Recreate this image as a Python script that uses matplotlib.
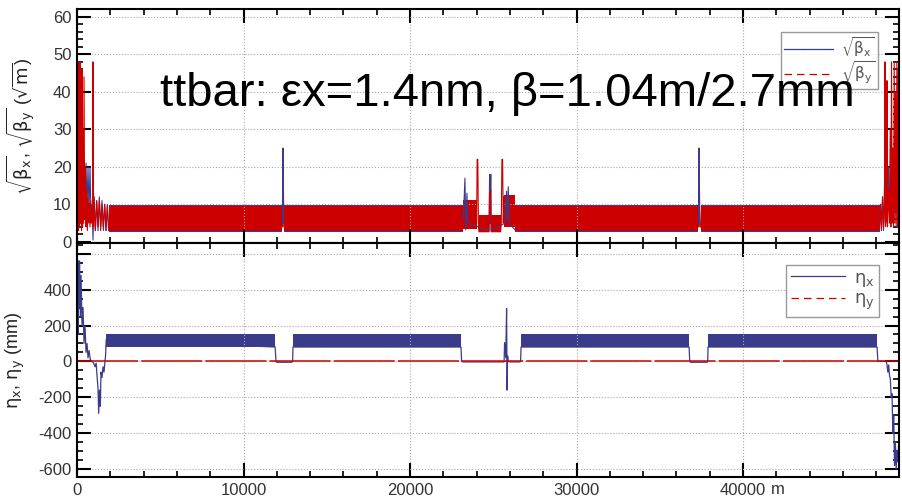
import matplotlib
matplotlib.use('Agg')
import matplotlib.pyplot as plt
from matplotlib.ticker import MultipleLocator
from matplotlib.lines import Line2D

plt.rcParams['font.family'] = ['Liberation Sans', 'DejaVu Sans']
plt.rcParams['axes.unicode_minus'] = False

# ---- data ----
# ring length (m)
ring_len = 49370

# sqrt(beta) arc cells: regions where the FODO pattern is a solid band
arc_s0 = [1900, 12450, 26300, 37450]
arc_s1 = [12300, 23180, 37300, 48200]
sbx_band = (2.7, 9.9)
sby_band = (3.0, 9.6)

# left interaction region
irl_bx_s = [0, 60, 120, 180, 240, 300, 360, 420, 480, 540, 600, 660, 720, 780, 840,
            900, 960, 1020, 1100, 1180, 1260, 1340, 1420, 1500, 1580, 1660, 1740, 1820, 1900]
irl_bx = [8, 20, 4, 16, 5, 12, 6, 20, 10, 21, 9, 20, 8, 20, 6,
          10, 0.5, 12, 3, 11, 3, 12, 4, 11, 3, 10, 3, 10, 3]
irl_by_s = [0, 15, 40, 60, 90, 120, 150, 180, 210, 240, 270, 300, 330, 360, 390,
            420, 460, 500, 540, 580, 620, 660, 700, 740, 780, 820, 860, 900, 940,
            960, 990, 1020, 1100, 1180, 1260, 1340, 1420, 1500, 1580, 1660, 1740, 1820, 1900]
irl_by = [3, 58, 5, 48, 3, 48, 4, 48, 5, 45, 3, 46, 4, 30, 5,
          44, 6, 20, 4, 14, 3, 12, 5, 10, 4, 11, 5, 8, 4,
          48, 4, 12, 3, 11, 4, 11, 3, 10, 4, 10, 3, 9.5, 3.2]

# right interaction region
irr_bx_s = [48200, 48260, 48320, 48380, 48440, 48500, 48560, 48620, 48680, 48740, 48800,
            48860, 48920, 48980, 49040, 49100, 49160, 49220, 49280, 49340, 49370]
irr_bx = [3, 10, 4, 12, 3, 16, 5, 21, 8, 20, 6, 22, 9, 18, 5, 20, 8, 14, 4, 12, 8]
irr_by_s = [48200, 48260, 48320, 48380, 48440, 48500, 48530, 48560, 48620, 48650, 48680,
            48740, 48800, 48840, 48880, 48920, 48960, 49000, 49040, 49080, 49120,
            49160, 49200, 49240, 49280, 49320, 49360]
irr_by = [4, 10, 3, 12, 4, 8, 48, 4, 6, 43, 4, 14, 5, 30, 4, 48, 5, 25, 4, 48, 5,
          40, 4, 48, 5, 46, 6]

# arc spikes (s of spike, sqrt(beta_x) peak, sqrt(beta_y) peak)
spike_s = [12370, 37360]
spike_bx = [25, 25]
spike_by = [20, 20]

# straight section around 25 km
ss_high_s = [(23180, 24020), (25620, 26300)]
ss_high_band = [(3.5, 11.2), (4.0, 12.5)]
ss_low_s = [(24140, 24750), (24870, 25440)]
ss_low_band = (2.7, 7.2)
ss_by_s = [24000, 24030, 24070, 24110, 24140, 24750, 24780, 24810, 24840, 24870,
           25440, 25480, 25520, 25560, 25600, 25640]
ss_by = [5, 22, 22, 4, 2.7, 2.7, 13, 5, 14, 2.7, 2.7, 5, 22, 22, 5, 12]
ss_bx_s = [23200, 23300, 23350, 23420, 23470, 24740, 24780, 24810, 24850, 24880,
           25700, 25800, 25850, 25900, 25950, 26300]
ss_bx = [6, 17, 3.2, 13, 5, 3, 18, 6, 18, 3, 5, 13.5, 6, 14.7, 5, 3.2]

# dispersion (mm)
eta_arc_s0 = [1750, 12970, 26670, 37900]
eta_arc_s1 = [11900, 23060, 36760, 48050]
eta_arc_band = (78, 155)
eta_x_s = [0, 30, 60, 90, 120, 150, 200, 240, 300, 360, 420, 480, 540, 600, 660, 720,
           800, 900, 1000, 1080, 1150, 1200, 1260, 1300, 1350, 1400, 1440, 1500, 1560,
           1620, 1680, 1720, 1750,
           11900, 11950, 12000, 12900, 12950, 12970,
           23060, 23100, 23200, 25650, 25680, 25750, 25800, 25830, 25860, 25900, 26000,
           26600, 26640, 26670,
           36760, 36800, 36850, 37850, 37880, 37900,
           48050, 48100, 48600, 48650, 48700, 48750, 48800, 48850, 48900, 48950, 49000,
           49050, 49100, 49150, 49200, 49250, 49300, 49370]
eta_x = [0, 400, 150, 560, 300, 560, 250, 480, 200, 300, 100, 200, 50, 100, 20, 60,
         10, 0, -10, -30, -10, -80, -150, -290, -160, -250, -60, -90, -30,
         -60, 0, 40, 120,
         80, 0, -5, -5, 0, 80,
         80, 0, -3, -3, 105, 20, 294, -160, 30, 0, -3,
         -3, 0, 80,
         80, 0, -5, -5, 0, 80,
         80, 0, 0, -20, -60, -20, -80, -100, -200, -180, -400,
         -300, -580, -450, -600, -500, -560, -400]
eta_y_s = [0, ring_len]
eta_y = [0, 0]

blue = '#3b3b8c'
red = '#cc0000'
grid_kw = dict(color='#a8a8a8', linestyle=':', linewidth=0.8)

fig = plt.figure(figsize=(9.02, 4.97), dpi=100)
ax1 = fig.add_axes([0.0854, 0.5111, 0.9113, 0.4708])
ax2 = fig.add_axes([0.0854, 0.0402, 0.9113, 0.4708])

# ---- top: sqrt(beta) ----
for s0, s1 in zip(arc_s0, arc_s1):
    ax1.fill_between([s0, s1], sbx_band[0], sbx_band[1], color=blue, lw=0)
ax1.plot(irl_bx_s, irl_bx, color=blue, lw=0.8)
ax1.plot(irr_bx_s, irr_bx, color=blue, lw=0.8)
ax1.plot(ss_bx_s, ss_bx, color=blue, lw=0.8)
for s0, s1 in zip(arc_s0, arc_s1):
    ax1.fill_between([s0, s1], sby_band[0], sby_band[1], color=red, lw=0)
for (s0, s1), (lo, hi) in zip(ss_high_s, ss_high_band):
    ax1.fill_between([s0, s1], lo, hi, color=red, lw=0)
for s0, s1 in ss_low_s:
    ax1.fill_between([s0, s1], ss_low_band[0], ss_low_band[1], color=red, lw=0)
ax1.plot(irl_by_s, irl_by, color=red, lw=0.8)
ax1.plot(irr_by_s, irr_by, color=red, lw=0.8)
ax1.plot(ss_by_s, ss_by, color=red, lw=0.8)
for s, bx, by in zip(spike_s, spike_bx, spike_by):
    ax1.plot([s - 70, s - 30, s, s + 30, s + 80], [9, 4, by, 9, 4], color=red, lw=1.0)
    ax1.plot([s - 20, s + 5, s + 20], [5, bx, 5], color=blue, lw=1.0)

ax1.set_xlim(0, ring_len)
ax1.set_ylim(-0.3, 62.1)
ax1.yaxis.set_major_locator(MultipleLocator(10))
ax1.yaxis.set_minor_locator(MultipleLocator(2))
ax1.set_ylabel(r'$\sqrt{\mathrm{\beta}_\mathrm{x}}$, $\sqrt{\mathrm{\beta}_\mathrm{y}}$ ($\sqrt{\mathrm{m}}$)',
               fontsize=13, color='#222222')
ax1.yaxis.set_label_coords(-0.049, 0.5)
ax1.set_xticklabels([])

leg1 = ax1.legend([Line2D([], [], color=blue, lw=0.9),
                   Line2D([], [], color=red, lw=0.9, dashes=(6, 4))],
                  [r'$\sqrt{\mathrm{\beta}_\mathrm{x}}$', r'$\sqrt{\mathrm{\beta}_\mathrm{y}}$'],
                  loc='upper right', bbox_to_anchor=(0.9745, 0.902), borderaxespad=0,
                  fancybox=False, edgecolor='#808080', fontsize=11, handlelength=3.2,
                  labelspacing=0.05, borderpad=0.2, handletextpad=0.5)
for t in leg1.get_texts():
    t.set_color('#555555')
leg1.get_frame().set_linewidth(1.0)

# ---- bottom: dispersion ----
for s0, s1 in zip(eta_arc_s0, eta_arc_s1):
    ax2.fill_between([s0, s1], eta_arc_band[0], eta_arc_band[1], color=blue, lw=0)
ax2.plot(eta_x_s, eta_x, color=blue, lw=0.9)
ax2.plot(eta_y_s, eta_y, color=red, lw=1.1, dashes=(40, 2))

ax2.set_xlim(0, ring_len)
ax2.set_ylim(-645, 660)
ax2.set_yticks([-600, -400, -200, 0, 200, 400, 600])
ax2.set_yticklabels(['-600', '-400', '-200', '0', '200', '400', ''])
ax2.yaxis.set_minor_locator(MultipleLocator(50))
ax2.set_xticks([0, 10000, 20000, 30000, 40000])
ax2.set_ylabel(r'$\mathrm{\eta}_\mathrm{x}$, $\mathrm{\eta}_\mathrm{y}$ (mm)',
               fontsize=13, color='#222222')
ax2.yaxis.set_label_coords(-0.061, 0.5)

leg2 = ax2.legend([Line2D([], [], color=blue, lw=0.9),
                   Line2D([], [], color=red, lw=0.9, dashes=(6, 4))],
                  [r'$\mathrm{\eta}_\mathrm{x}$', r'$\mathrm{\eta}_\mathrm{y}$'],
                  loc='upper right', bbox_to_anchor=(0.9757, 0.906), borderaxespad=0,
                  fancybox=False, edgecolor='#808080', fontsize=13, handlelength=3.0,
                  labelspacing=0.15, borderpad=0.25, handletextpad=0.5)
for t in leg2.get_texts():
    t.set_color('#555555')
leg2.get_frame().set_linewidth(1.0)

for ax in (ax1, ax2):
    ax.xaxis.set_minor_locator(MultipleLocator(2000))
    ax.grid(True, which='major', **grid_kw)
    ax.tick_params(which='both', direction='in', top=True, right=True,
                   labelsize=12, labelcolor='#333333', pad=4)
    ax.tick_params(which='major', length=10, width=1.5)
    ax.tick_params(which='minor', length=4, width=1.2)
    for sp in ax.spines.values():
        sp.set_linewidth(1.5)

fig.text(778 / 902, 1 - 490 / 497, 'm', fontsize=12, color='#333333',
         ha='center', va='center')
fig.text(160 / 902, 1 - 106 / 497, 'ttbar: \u03b5x=1.4nm, \u03b2=1.04m/2.7mm',
         fontsize=34, color='black', ha='left', va='baseline')

fig.savefig('out.png', dpi=100)
